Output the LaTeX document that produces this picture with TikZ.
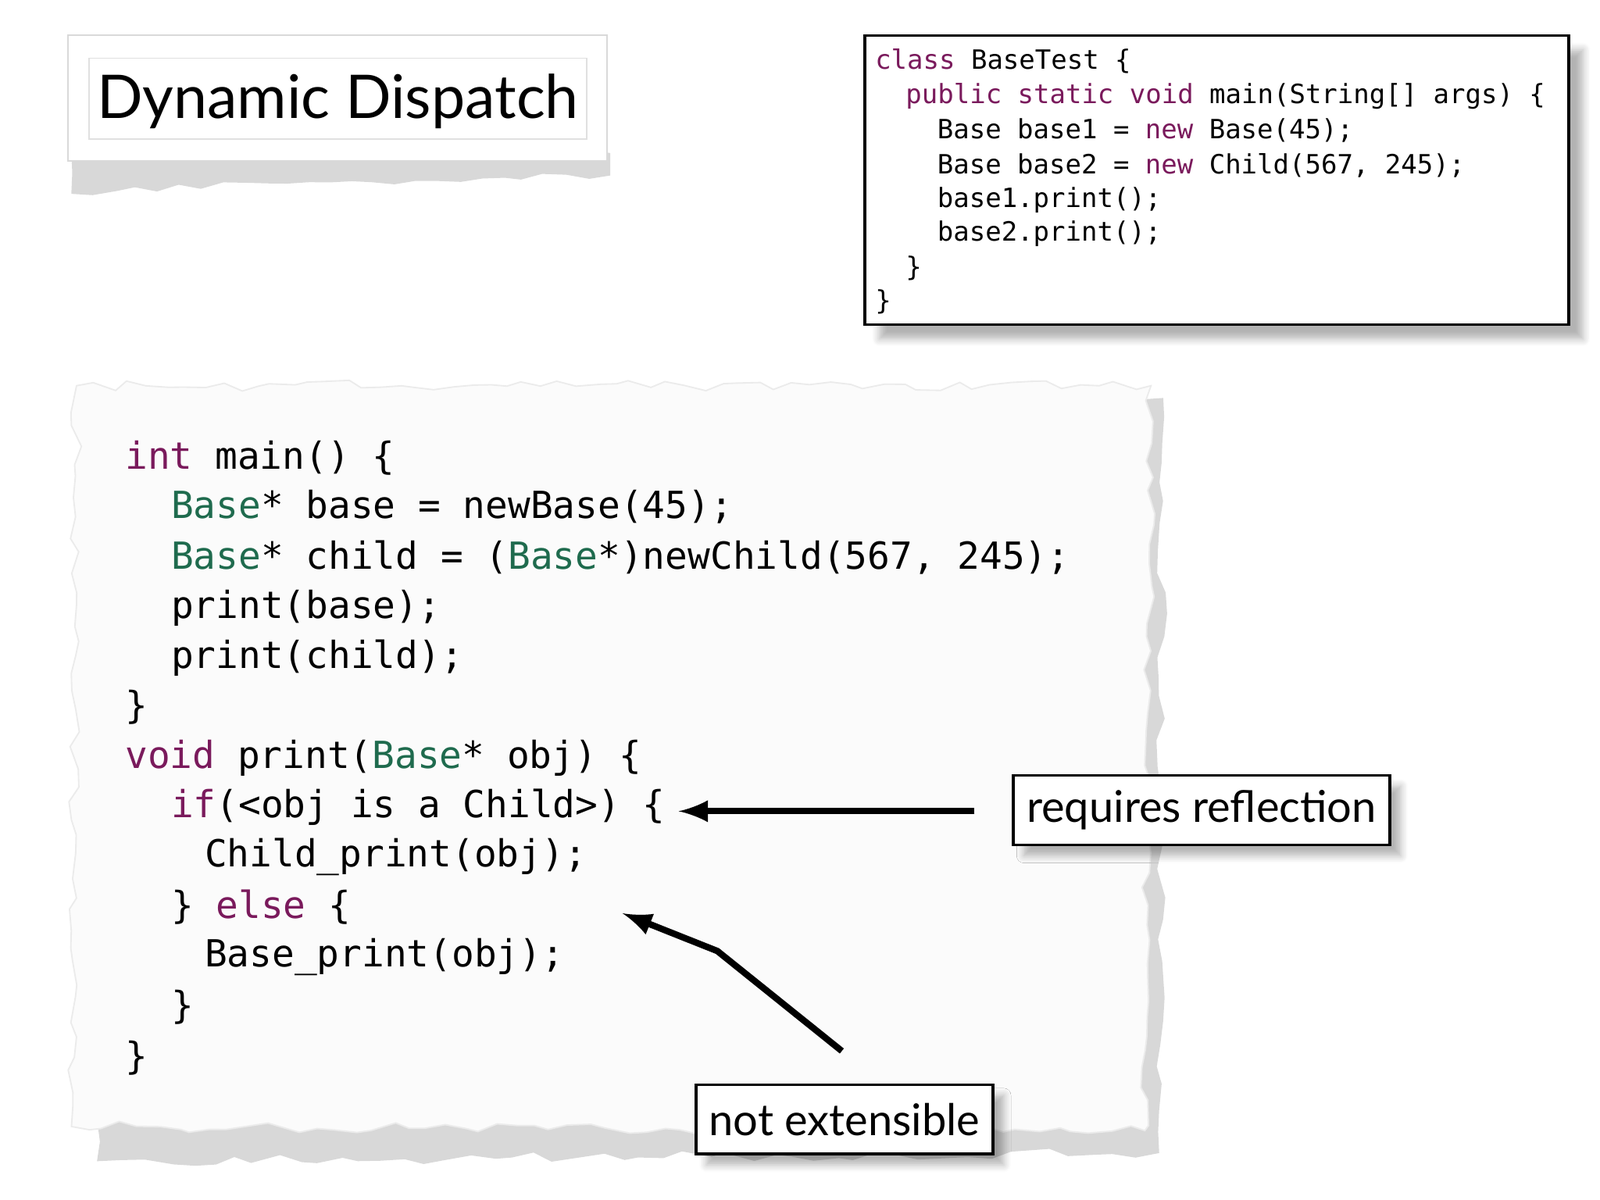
\documentclass[tikz,border=0pt]{standalone}
\usepackage{fontspec}
\setmainfont{Lato}
\newfontfamily\codefont{DejaVu Sans Mono}
\usetikzlibrary{decorations.pathmorphing,shadows.blur}
\definecolor{kw}{HTML}{7A1A5C}
\definecolor{ty}{HTML}{1F6B4E}
\tikzset{
  cl/.style={anchor=west,inner sep=0pt,font=\codefont\fontsize{10.4}{12}\selectfont},
  jl/.style={anchor=west,inner sep=0pt,font=\codefont\fontsize{7.4}{9}\selectfont},
  lab/.style={draw=black,line width=0.8pt,fill=white,inner sep=0pt,font=\fontsize{12.2}{14}\selectfont,blur shadow={shadow xshift=3pt,shadow yshift=-3pt,shadow blur steps=6,shadow opacity=30}},
  arr/.style={-latex,line width=1.8pt}
}
\begin{document}
\begin{tikzpicture}[x=0.01cm,y=-0.01cm]
\useasboundingbox (0,0) rectangle (1568,1176);
% title
\fill[black!30,opacity=0.5,decorate,decoration={random steps,segment length=6pt,amplitude=1pt}] (70,150) -- (598,150) -- (598,172) .. controls (400,178) and (250,178) .. (70,190) -- cycle;
\node[draw=black!15,fill=white,minimum width=5.28cm,minimum height=1.23cm,inner sep=0pt] (tb) at (331,96) {};
\draw[black!12] (87,57) rectangle (575,136);
\node[font=\fontsize{16.8}{20}\selectfont] (title) at (331,99) {Dynamic Dispatch};
% java box
\node[draw=black,line width=0.8pt,fill=white,minimum width=6.89cm,minimum height=2.83cm,inner sep=0pt,blur shadow={shadow xshift=4pt,shadow yshift=-4pt,shadow blur steps=6,shadow opacity=30}] (jb) at (1192.5,176.5) {};
\node[jl] (j1) at (857,60) {\textcolor{kw}{class} BaseTest \{};
\node[jl] (j2) at (887,94) {\textcolor{kw}{public static void} main(String[] args) \{};
\node[jl] (j3) at (918,128) {Base base1 = \textcolor{kw}{new} Base(45);};
\node[jl] (j4) at (918,162) {Base base2 = \textcolor{kw}{new} Child(567, 245);};
\node[jl] (j5) at (918,196) {base1.print();};
\node[jl] (j6) at (918,229) {base2.print();};
\node[jl] (j7) at (887,263) {\}};
\node[jl] (j8) at (857,296) {\}};
% paper
\pgfmathsetseed{7}
\fill[black!30,opacity=0.5,decorate,decoration={random steps,segment length=6pt,amplitude=1.5pt}]
  (90,392) -- (1140,390) -- (1136,1130) -- (95,1138) -- cycle;
\fill[black!1.5,draw=black!8,decorate,decoration={random steps,segment length=5pt,amplitude=1.5pt}]
  (75,378) -- (1128,378) -- (1122,1108) -- (70,1104) -- cycle;
\node[cl] (c1) at (122,449) {\textcolor{kw}{int} main() \{};
\node[cl] (c2) at (167,497) {\textcolor{ty}{Base}* base = newBase(45);};
\node[cl] (c3) at (167,546) {\textcolor{ty}{Base}* child = (\textcolor{ty}{Base}*)newChild(567, 245);};
\node[cl] (c4) at (167,596) {print(base);};
\node[cl] (c5) at (167,645) {print(child);};
\node[cl] (c6) at (122,693) {\}};
\node[cl] (c7) at (122,743) {\textcolor{kw}{void} print(\textcolor{ty}{Base}* obj) \{};
\node[cl] (c8) at (167,791) {\textcolor{kw}{if}(<obj is a Child>) \{};
\node[cl] (c9) at (200,840) {Child\_print(obj);};
\node[cl] (c10) at (167,889) {\} \textcolor{kw}{else} \{};
\node[cl] (c11) at (200,938) {Base\_print(obj);};
\node[cl] (c12) at (167,987) {\}};
\node[cl] (c13) at (122,1037) {\}};
% labels
\node[lab,minimum width=3.69cm,minimum height=0.68cm] (rr) at (1177.5,794) {requires reflection};
\node[lab,minimum width=2.91cm,minimum height=0.68cm] (ne) at (827.5,1097) {not extensible};
\coordinate (a1s) at (955,795);
\coordinate (a1e) at (665,795);
\draw[arr] (a1s) -- (a1e);
\coordinate (a2s) at (825,1030);
\coordinate (a2m) at (703,932);
\coordinate (a2e) at (610,895);
\draw[arr] (a2s) -- (a2m) -- (a2e);
\end{tikzpicture}
\end{document}
